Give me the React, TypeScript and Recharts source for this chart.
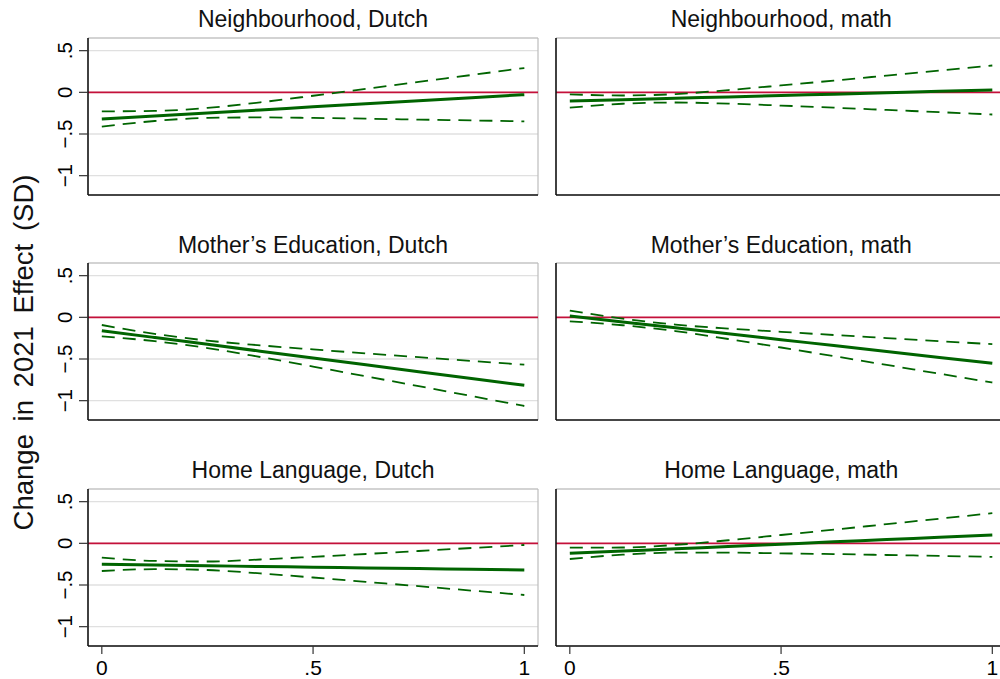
import React from 'react';
import { LineChart, Line, XAxis, YAxis, CartesianGrid, ReferenceLine } from 'recharts';

// ---------- data ----------
const X_POINTS = [0, 0.125, 0.25, 0.375, 0.5, 0.625, 0.75, 0.875, 1];
const X_TICKS = [0, 0.5, 1];
const X_TICK_LABELS = ['0', '.5', '1'];
const Y_TICKS = [-1, -0.5, 0, 0.5];
const Y_TICK_LABELS = ['\u22121', '\u2212.5', '0', '.5'];
const Y_TITLE = 'Change in 2021 Effect (SD)';

const PANEL_TITLES = [
  'Neighbourhood, Dutch',
  'Neighbourhood, math',
  'Mother\u2019s Education, Dutch',
  'Mother\u2019s Education, math',
  'Home Language, Dutch',
  'Home Language, math',
];

const ndEst = [-0.32, -0.284, -0.247, -0.211, -0.174, -0.138, -0.101, -0.065, -0.028];
const ndHi = [-0.228, -0.223, -0.187, -0.12, -0.041, 0.041, 0.125, 0.208, 0.292];
const ndLo = [-0.412, -0.344, -0.307, -0.301, -0.307, -0.316, -0.327, -0.337, -0.348];

const nmEst = [-0.104, -0.088, -0.071, -0.055, -0.038, -0.022, -0.005, 0.012, 0.028];
const nmHi = [-0.024, -0.038, -0.021, 0.027, 0.083, 0.141, 0.201, 0.261, 0.322];
const nmLo = [-0.184, -0.137, -0.122, -0.136, -0.159, -0.184, -0.211, -0.238, -0.266];

const mdEst = [-0.16, -0.242, -0.324, -0.406, -0.488, -0.57, -0.652, -0.734, -0.816];
const mdHi = [-0.092, -0.198, -0.279, -0.336, -0.385, -0.432, -0.478, -0.523, -0.568];
const mdLo = [-0.228, -0.286, -0.369, -0.476, -0.591, -0.708, -0.826, -0.945, -1.064];

const mmEst = [0.016, -0.055, -0.126, -0.197, -0.268, -0.339, -0.41, -0.481, -0.552];
const mmHi = [0.08, -0.015, -0.087, -0.135, -0.174, -0.212, -0.249, -0.286, -0.322];
const mmLo = [-0.048, -0.095, -0.165, -0.26, -0.362, -0.466, -0.571, -0.677, -0.782];

const hdEst = [-0.252, -0.261, -0.269, -0.278, -0.286, -0.295, -0.303, -0.312, -0.32];
const hdHi = [-0.172, -0.211, -0.218, -0.194, -0.162, -0.128, -0.092, -0.056, -0.02];
const hdLo = [-0.332, -0.31, -0.32, -0.361, -0.41, -0.462, -0.514, -0.567, -0.62];

const hmEst = [-0.12, -0.093, -0.065, -0.038, -0.01, 0.018, 0.045, 0.073, 0.1];
const hmHi = [-0.052, -0.05, -0.019, 0.037, 0.1, 0.164, 0.23, 0.296, 0.362];
const hmLo = [-0.188, -0.136, -0.111, -0.112, -0.12, -0.129, -0.14, -0.151, -0.162];

const PANELS = [
  { est: ndEst, hi: ndHi, lo: ndLo },
  { est: nmEst, hi: nmHi, lo: nmLo },
  { est: mdEst, hi: mdHi, lo: mdLo },
  { est: mmEst, hi: mmHi, lo: mmLo },
  { est: hdEst, hi: hdHi, lo: hdLo },
  { est: hmEst, hi: hmHi, lo: hmLo },
];

// ---------- layout / style ----------
const X_DOMAIN: [number, number] = [-0.0327, 1.0324];
const Y_DOMAIN: [number, number] = [-1.232, 0.652];
const PLOT_LEFTS = [88, 556.3];
const PLOT_TOPS = [38, 263.3, 489];
const PLOT_W = 450;
const PLOT_H = 157;
const MARGIN_T = 4;
const MARGIN_R = 4;
const FONT = '"Liberation Sans", Arial, Helvetica, sans-serif';
const GREEN = '#006400';
const RED = '#c4103a';

const YTick = (props: any) => {
  const { x, y, payload } = props;
  const idx = Y_TICKS.indexOf(payload.value);
  return (
    <text
      x={x}
      y={y}
      transform={`rotate(-90, ${x}, ${y})`}
      textAnchor="middle"
      fontSize={20.5}
      fontFamily={FONT}
      fill="#000"
    >
      {Y_TICK_LABELS[idx]}
    </text>
  );
};

const XTick = (props: any) => {
  const { x, y, payload } = props;
  const idx = X_TICKS.indexOf(payload.value);
  return (
    <text x={x} y={y + 15} textAnchor="middle" fontSize={21} fontFamily={FONT} fill="#000">
      {X_TICK_LABELS[idx]}
    </text>
  );
};

function Panel({ index }: { index: number }) {
  const col = index % 2;
  const row = Math.floor(index / 2);
  const p = PANELS[index];
  const isBottom = row === 2;
  const isLeft = col === 0;
  const yAxisW = isLeft ? 60 : 8;
  const xAxisH = isBottom ? 34 : 1;
  const plotLeft = PLOT_LEFTS[col];
  const plotTop = PLOT_TOPS[row];
  const data = X_POINTS.map((x, i) => ({ x, est: p.est[i], lo: p.lo[i], hi: p.hi[i] }));
  const width = yAxisW + PLOT_W + MARGIN_R;
  const height = MARGIN_T + PLOT_H + xAxisH;
  return (
    <div style={{ position: 'absolute', left: plotLeft - yAxisW, top: plotTop - MARGIN_T }}>
      <LineChart
        width={width}
        height={height}
        data={data}
        margin={{ top: MARGIN_T, right: MARGIN_R, bottom: 0, left: 0 }}
      >
        <CartesianGrid vertical={false} stroke="#e0e0e0" strokeWidth={1.4} />
        <XAxis
          type="number"
          dataKey="x"
          domain={X_DOMAIN}
          ticks={X_TICKS}
          allowDataOverflow
          interval={0}
          height={xAxisH}
          tick={isBottom ? (props: any) => <XTick {...props} /> : false}
          tickLine={isBottom ? { stroke: '#333', strokeWidth: 1.2 } : false}
          tickSize={8}
          tickMargin={6}
          axisLine={{ stroke: '#111', strokeWidth: 1.6 }}
        />
        <YAxis
          type="number"
          domain={Y_DOMAIN}
          ticks={Y_TICKS}
          allowDataOverflow
          interval={0}
          width={yAxisW}
          tick={isLeft ? (props: any) => <YTick {...props} /> : false}
          tickLine={isLeft ? { stroke: '#333', strokeWidth: 1.2 } : false}
          tickSize={9}
          tickMargin={7}
          axisLine={{ stroke: '#111', strokeWidth: 1.6 }}
        />
        <ReferenceLine y={Y_DOMAIN[1]} stroke="#bdbdbd" strokeWidth={1.2} ifOverflow="visible" />
        <ReferenceLine x={X_DOMAIN[1]} stroke="#bdbdbd" strokeWidth={1.2} ifOverflow="visible" />
        <ReferenceLine y={0} stroke={RED} strokeWidth={1.8} />
        <Line
          type="monotone"
          dataKey="hi"
          stroke={GREEN}
          strokeWidth={1.8}
          strokeDasharray="13 8"
          dot={false}
          activeDot={false}
          isAnimationActive={false}
        />
        <Line
          type="monotone"
          dataKey="lo"
          stroke={GREEN}
          strokeWidth={1.8}
          strokeDasharray="13 8"
          dot={false}
          activeDot={false}
          isAnimationActive={false}
        />
        <Line
          type="monotone"
          dataKey="est"
          stroke={GREEN}
          strokeWidth={3}
          dot={false}
          activeDot={false}
          isAnimationActive={false}
        />
      </LineChart>
    </div>
  );
}

export default function App() {
  return (
    <div
      style={{
        position: 'absolute',
        left: 0,
        top: 0,
        width: 1000,
        height: 679,
        overflow: 'hidden',
        background: '#fff',
        fontFamily: FONT,
      }}
    >
      {PANELS.map((_, i) => (
        <Panel key={i} index={i} />
      ))}
      <svg
        width={1000}
        height={679}
        style={{ position: 'absolute', left: 0, top: 0, pointerEvents: 'none' }}
      >
        {PANEL_TITLES.map((t, i) => {
          const col = i % 2;
          const row = Math.floor(i / 2);
          const cx = PLOT_LEFTS[col] + PLOT_W / 2;
          const by = PLOT_TOPS[row] - 10.7;
          return (
            <text key={t} x={cx} y={by} textAnchor="middle" fontSize={23} fontFamily={FONT} fill="#111">
              {t}
            </text>
          );
        })}
        <text
          x={33}
          y={352.5}
          transform="rotate(-90, 33, 352.5)"
          textAnchor="middle"
          fontSize={27.5}
          fontFamily={FONT}
          fill="#111"
          style={{ wordSpacing: '5px' }}
        >
          {Y_TITLE}
        </text>
      </svg>
    </div>
  );
}
